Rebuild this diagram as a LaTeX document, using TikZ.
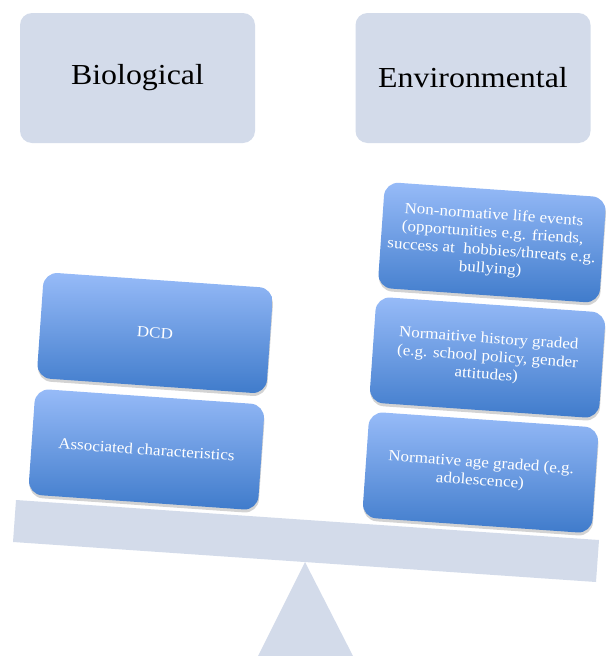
\documentclass[tikz,border=0pt]{standalone}
\usepackage{fontspec}
\setmainfont{Liberation Serif}[FakeStretch=1.1]
\usetikzlibrary{shadows}
\definecolor{panel}{HTML}{D3DBEA}
\definecolor{btop}{HTML}{97BBF8}
\definecolor{bbot}{HTML}{3F7BCB}
\begin{document}
\begin{tikzpicture}[x=1pt,y=-1pt,
  header/.style={fill=panel, rounded corners=12pt, minimum width=235pt,
    minimum height=130pt, font=\fontsize{29}{34}\selectfont, text=black},
  block/.style={rounded corners=14pt, top color=btop, bottom color=bbot,
    minimum width=230pt, minimum height=106pt, rotate=-4, text=white,
    align=center, font=\fontsize{15.5}{18}\selectfont, inner sep=4pt,
    drop shadow={shadow xshift=0.5pt, shadow yshift=-3pt, opacity=0.35}},
  support/.style={fill=panel}]
\useasboundingbox (0,0) rectangle (606,656);

\node[header] (bio) at (137.5,78) {Biological};
\node[header] (env) at (473,78) {Environmental};

\coordinate (apex) at (305,562);
\coordinate (baseL) at (258,656);
\coordinate (baseR) at (353,656);
\fill[support] (apex) -- (baseR) -- (baseL) -- cycle;

\coordinate (bTL) at (16,500);
\coordinate (bTR) at (599,540);
\coordinate (bBR) at (596,582);
\coordinate (bBL) at (13,542);
\fill[support] (bTL) -- (bTR) -- (bBR) -- (bBL) -- cycle;

\node[block] (assoc) at (146.5,449.5) {Associated characteristics};
\node[block] (dcd) at (155,333) {DCD};

\node[block] (age) at (480.5,472.5) {Normative age graded (e.g.\\adolescence)};
\node[block] (hist) at (487.5,357.5) {Normaitive history graded\\(e.g. school policy, gender\\attitudes)};
\node[block, minimum width=222pt] (nonnorm) at (492,242.5) {Non-normative life events\\(opportunities e.g. friends,\\success at~ hobbies/threats e.g.\\bullying)};
\end{tikzpicture}
\end{document}
